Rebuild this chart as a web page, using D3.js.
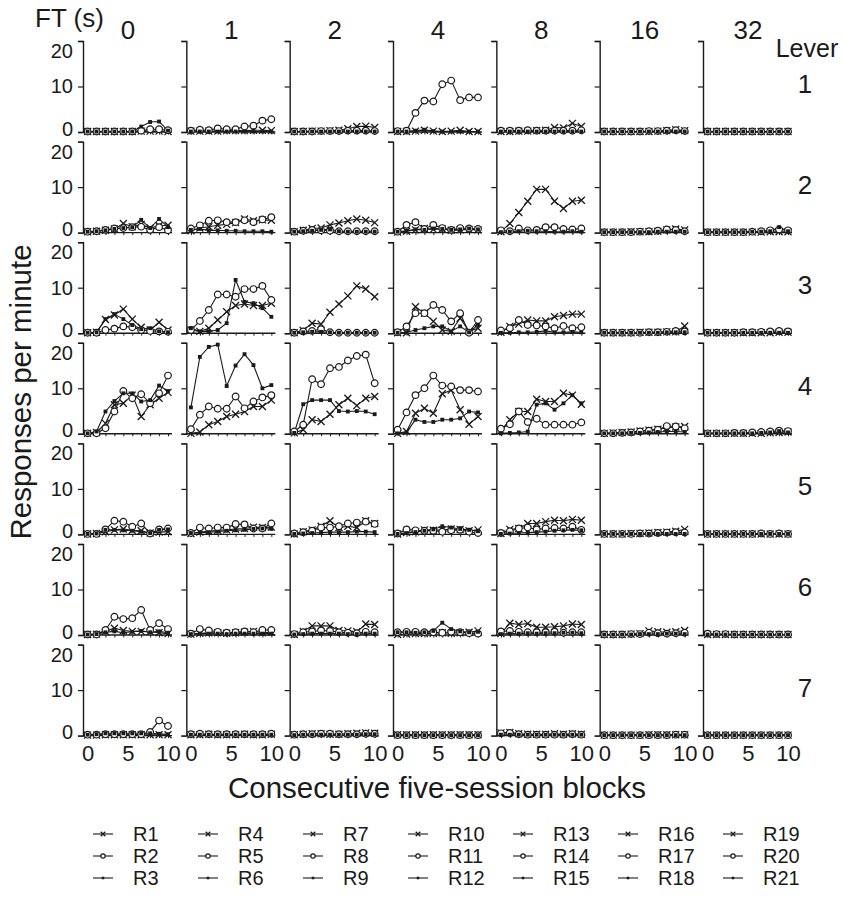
<!DOCTYPE html>
<html>
<head>
<meta charset="utf-8">
<script src="https://cdn.jsdelivr.net/npm/d3@7"></script>
<style>
  body { margin: 0; background: #fff; }
  svg { display: block; }
  text { font-family: "Liberation Sans", Arial, sans-serif; fill: #1a1a1a; }
</style>
</head>
<body>
<svg id="chart"></svg>
<script>
const width = 844;
const height = 902;

const ftValues = ['0', '1', '2', '4', '8', '16', '32'];
const levers = [1, 2, 3, 4, 5, 6, 7];
const blocks = [1, 2, 3, 4, 5, 6, 7, 8, 9, 10];
const yTicks = [0, 10, 20];
const xTickValues = [1, 5.5, 10];
const xTickLabels = ['0', '5', '10'];

// responses per minute: one row per lever (1..7), ten five-session blocks each
// FT 0 s
const R1 = [
  [0.1,0.1,0.1,0.1,0.1,0.1,0.2,0.2,0.2,0.1],
  [0.2,0.3,0.5,0.8,2.0,1.3,1.8,1.0,1.5,1.6],
  [0.1,0.2,3.0,4.0,5.3,3.1,1.3,0.7,2.4,0.7],
  [0.1,0.3,2.3,6.4,6.7,8.5,3.8,6.4,7.8,9.1],
  [0.1,0.2,0.6,1.0,1.2,0.9,0.8,0.3,0.5,0.6],
  [0.1,0.2,0.8,1.5,1.0,0.8,0.8,0.7,0.5,0.3],
  [0.1,0.1,0.2,0.2,0.2,0.2,0.2,0.2,0.2,0.2]
];
const R2 = [
  [0.1,0.1,0.1,0.1,0.1,0.1,0.3,0.6,0.6,0.4],
  [0.2,0.3,0.6,0.9,1.0,1.2,1.3,0.6,1.2,0.5],
  [0.1,0.1,0.7,1.0,1.5,1.3,0.7,0.5,0.4,0.3],
  [0.1,0.1,1.2,4.9,9.4,7.8,8.7,6.7,8.9,12.8],
  [0.1,0.1,1.1,3.0,2.8,1.7,2.4,0.2,1.1,1.3],
  [0.1,0.1,1.1,4.0,3.5,3.7,5.5,1.1,2.6,1.3],
  [0.2,0.2,0.3,0.3,0.3,0.3,0.3,0.8,3.3,2.1]
];
const R3 = [
  [0.1,0.1,0.1,0.1,0.1,0.1,1.2,2.2,2.3,0.3],
  [0.2,0.3,0.5,0.8,1.0,1.2,2.8,1.0,3.0,1.2],
  [0.1,0.2,3.1,4.2,3.1,1.8,0.9,1.1,0.4,0.2],
  [0.1,0.5,4.9,7.2,8.9,8.9,7.1,7.4,10.6,9.4],
  [0.1,0.2,1.0,1.0,0.9,0.8,0.6,0.3,1.0,1.1],
  [0.1,0.2,0.6,0.8,0.5,0.7,0.9,0.6,0.8,0.5],
  [0.2,0.3,0.5,0.5,0.5,0.5,0.5,0.5,0.4,0.3]
];
// FT 1 s
const R4 = [
  [0.2,0.2,0.2,0.2,0.3,0.3,0.3,0.4,0.4,0.3],
  [0.4,1.0,1.3,1.6,1.8,2.2,3.0,2.6,2.8,2.7],
  [0.7,0.4,1.1,2.9,4.7,6.1,6.4,6.1,6.1,6.6],
  [0.1,0.4,2.0,2.7,3.8,4.3,4.9,6.0,6.0,7.4],
  [0.2,0.5,0.7,0.9,1.0,1.2,1.3,1.6,1.5,1.6],
  [0.2,0.4,0.5,0.5,0.4,0.5,0.6,0.8,0.5,0.6],
  [0.2,0.2,0.3,0.2,0.2,0.2,0.3,0.2,0.2,0.3]
];
const R5 = [
  [0.3,0.5,0.4,0.8,0.6,0.6,1.2,1.4,2.5,2.8],
  [0.9,1.6,2.6,2.7,2.3,2.3,2.7,2.3,2.9,3.4],
  [0.7,2.7,5.1,8.5,8.5,8.0,9.7,9.7,10.4,7.3],
  [1.0,4.2,6.0,5.5,5.5,8.2,5.6,7.1,8.0,8.5],
  [0.3,1.5,1.3,1.5,1.5,2.3,2.2,1.3,1.3,2.4],
  [0.3,1.3,1.0,0.7,0.5,0.6,0.8,0.6,1.1,1.1],
  [0.3,0.4,0.3,0.3,0.3,0.3,0.3,0.3,0.3,0.4]
];
const R6 = [
  [0.1,0.1,0.1,0.1,0.1,0.1,0.1,0.1,0.1,0.1],
  [0.6,0.8,0.5,0.5,0.4,0.4,0.3,0.3,0.3,0.2],
  [1.1,0.4,0.4,0.7,2.2,11.7,6.9,6.6,5.5,3.6],
  [5.8,16.9,19.1,19.6,10.5,15.0,17.5,15.1,10.0,10.7],
  [0.3,0.4,0.5,0.6,0.8,0.9,1.0,1.2,1.3,1.2],
  [0.2,0.3,0.3,0.3,0.2,0.3,0.3,0.3,0.3,0.3],
  [0.2,0.2,0.2,0.2,0.2,0.2,0.2,0.2,0.2,0.2]
];
// FT 2 s
const R7 = [
  [0.1,0.1,0.2,0.2,0.3,0.4,0.7,1.2,1.3,1.0],
  [0.2,0.5,0.9,1.0,1.7,2.1,2.6,3.0,2.7,2.2],
  [0.1,0.6,2.2,2.0,4.6,6.4,8.2,10.4,9.7,8.0],
  [0.2,0.9,3.1,2.7,4.3,6.4,7.8,6.2,7.8,8.2],
  [0.1,0.6,1.0,1.8,3.0,1.5,1.8,1.5,3.0,2.4],
  [0.1,0.8,2.0,2.0,2.0,1.0,0.9,0.7,2.4,2.3],
  [0.2,0.3,0.4,0.4,0.3,0.3,0.4,0.5,0.6,0.5]
];
const R8 = [
  [0.1,0.1,0.1,0.2,0.2,0.2,0.3,0.3,0.3,0.2],
  [0.2,0.4,0.6,0.5,0.4,0.3,0.3,0.3,0.3,0.3],
  [0.1,0.4,0.5,0.9,0.2,0.1,0.1,0.1,0.1,0.1],
  [0.5,2.0,12.0,10.9,14.4,14.7,16.1,17.1,17.4,11.1],
  [0.2,0.5,0.8,1.5,1.5,1.8,2.4,2.6,2.8,2.3],
  [0.2,0.6,0.8,1.0,0.9,0.6,0.5,0.4,0.7,0.6],
  [0.2,0.3,0.3,0.4,0.4,0.3,0.3,0.3,0.4,0.4]
];
const R9 = [
  [0.1,0.1,0.1,0.1,0.1,0.1,0.1,0.1,0.1,0.1],
  [0.2,0.3,0.4,0.6,0.7,0.3,0.2,0.2,0.2,0.2],
  [0.1,0.2,0.3,0.3,0.2,0.1,0.1,0.1,0.1,0.1],
  [0.2,6.5,7.4,7.4,7.4,5.0,4.9,5.0,4.9,4.3],
  [0.1,0.2,0.3,0.4,0.5,0.5,0.5,0.6,0.6,0.5],
  [0.1,0.2,0.3,0.3,0.3,0.3,0.2,0.2,0.3,0.3],
  [0.1,0.2,0.2,0.2,0.2,0.2,0.2,0.2,0.3,0.3]
];
// FT 4 s
const R10 = [
  [0.1,0.1,0.2,0.4,0.2,0.1,0.2,0.4,0.1,0.1],
  [0.1,0.3,0.6,0.9,0.7,0.8,0.5,0.6,0.7,0.6],
  [0.1,0.1,5.8,4.4,2.6,0.7,0.4,3.3,0.4,1.1],
  [0.1,0.5,4.5,5.6,4.5,8.8,9.6,5.3,2.1,3.8],
  [0.1,0.4,0.6,1.0,0.9,1.0,1.2,1.1,0.8,1.0],
  [0.1,0.2,0.3,0.3,0.4,0.5,0.4,0.5,0.6,0.9],
  [0.2,0.2,0.2,0.2,0.2,0.2,0.2,0.2,0.2,0.2]
];
const R11 = [
  [0.2,0.3,4.2,6.9,6.7,10.5,11.3,7.0,7.6,7.6],
  [0.2,1.7,2.3,0.8,1.7,1.0,0.6,1.0,0.9,0.8],
  [0.2,1.5,4.4,4.4,6.2,5.1,2.6,4.4,0.1,2.9],
  [0.9,4.7,8.5,10.0,12.8,10.6,10.4,9.6,9.6,9.3],
  [0.2,1.1,0.9,0.8,0.8,0.6,0.9,1.0,0.6,0.3],
  [0.6,0.7,0.7,0.6,0.6,0.5,0.7,0.6,0.4,0.3],
  [0.1,0.1,0.1,0.1,0.1,0.1,0.1,0.1,0.1,0.1]
];
const R12 = [
  [0.1,0.1,0.3,0.5,0.2,0.1,0.1,0.1,0.1,0.1],
  [0.2,0.4,0.7,0.6,0.9,0.8,0.6,0.7,0.9,0.7],
  [0.1,0.2,0.7,1.1,1.5,1.5,0.4,1.5,0.2,1.8],
  [0.1,0.3,3.1,2.6,2.6,3.1,3.1,3.4,4.9,4.7],
  [0.1,0.3,0.5,0.8,1.1,1.8,1.5,1.2,1.0,0.7],
  [0.6,0.6,0.5,0.6,0.9,2.7,1.3,0.8,0.6,0.7],
  [0.1,0.1,0.1,0.1,0.1,0.1,0.1,0.1,0.1,0.1]
];
// FT 8 s
const R13 = [
  [0.1,0.1,0.2,0.2,0.3,0.4,1.0,0.9,1.9,1.2],
  [0.2,2.0,4.4,6.9,9.5,9.5,6.9,5.3,6.9,7.1],
  [0.2,1.5,2.0,2.9,2.7,2.7,3.6,3.9,4.2,4.2],
  [0.7,3.1,4.9,4.9,7.6,7.1,7.1,8.9,8.5,6.5],
  [0.2,1.1,1.3,2.4,2.4,2.8,3.1,3.0,3.3,3.1],
  [0.3,2.6,2.3,2.5,1.7,1.7,1.8,2.0,2.4,2.3],
  [0.6,0.7,0.4,0.3,0.3,0.3,0.4,0.3,0.4,0.3]
];
const R14 = [
  [0.3,0.3,0.3,0.4,0.3,0.3,0.3,0.3,0.3,0.4],
  [0.5,0.3,0.9,0.5,0.6,1.2,1.2,0.8,0.7,0.9],
  [0.6,1.1,2.9,1.8,1.7,1.5,1.1,1.6,1.1,1.3],
  [1.1,2.1,4.9,2.6,3.3,2.0,2.0,2.0,2.0,2.5],
  [0.3,0.7,1.3,1.5,1.1,1.3,1.4,1.3,1.7,1.0],
  [0.8,0.9,0.7,0.6,0.6,0.6,0.7,0.5,0.6,0.6],
  [0.5,0.6,0.3,0.2,0.2,0.2,0.2,0.2,0.3,0.2]
];
const R15 = [
  [0.1,0.1,0.1,0.1,0.1,0.1,0.1,0.1,0.1,0.1],
  [0.1,0.2,0.3,0.4,0.3,0.3,0.2,0.2,0.3,0.2],
  [0.1,0.1,0.2,0.2,0.3,0.5,0.2,0.2,0.3,0.2],
  [0.1,0.2,0.3,0.5,6.4,6.7,5.3,6.7,8.5,6.7],
  [0.1,0.2,0.3,0.4,0.5,0.6,0.8,0.9,1.0,0.9],
  [0.2,0.3,0.3,0.4,0.3,0.4,0.4,0.5,0.5,0.4],
  [0.2,0.2,0.2,0.2,0.2,0.2,0.2,0.2,0.2,0.2]
];
// FT 16 s
const R16 = [
  [0.1,0.1,0.1,0.1,0.1,0.1,0.2,0.3,0.5,0.3],
  [0.1,0.1,0.1,0.2,0.2,0.2,0.3,0.6,0.8,0.6],
  [0.1,0.1,0.1,0.1,0.2,0.2,0.2,0.3,0.3,1.6],
  [0.1,0.2,0.3,0.4,0.6,0.8,1.0,1.3,1.5,1.6],
  [0.1,0.1,0.1,0.2,0.2,0.3,0.4,0.5,0.7,1.1],
  [0.1,0.1,0.1,0.2,0.3,0.9,0.7,0.6,0.7,1.0],
  [0.1,0.1,0.1,0.1,0.1,0.2,0.2,0.2,0.2,0.2]
];
const R17 = [
  [0.1,0.1,0.1,0.1,0.1,0.2,0.2,0.3,0.4,0.2],
  [0.1,0.1,0.1,0.1,0.2,0.3,0.4,0.7,0.6,0.3],
  [0.1,0.1,0.1,0.1,0.1,0.2,0.2,0.3,0.5,0.4],
  [0.1,0.1,0.2,0.3,0.5,0.7,0.9,1.7,1.6,1.2],
  [0.1,0.1,0.1,0.1,0.2,0.2,0.3,0.4,0.5,0.4],
  [0.1,0.1,0.1,0.2,0.2,0.5,0.4,0.3,0.4,0.5],
  [0.1,0.1,0.1,0.1,0.1,0.1,0.1,0.1,0.2,0.2]
];
const R18 = [
  [0.1,0.1,0.1,0.1,0.1,0.1,0.1,0.1,0.1,0.1],
  [0.1,0.1,0.1,0.1,0.1,0.1,0.2,0.2,0.2,0.2],
  [0.1,0.1,0.1,0.1,0.1,0.1,0.1,0.2,0.2,0.2],
  [0.1,0.1,0.1,0.2,0.2,0.3,0.4,0.5,0.5,0.4],
  [0.1,0.1,0.1,0.1,0.1,0.1,0.1,0.1,0.1,0.1],
  [0.1,0.1,0.1,0.1,0.2,0.2,0.2,0.3,0.3,0.2],
  [0.1,0.1,0.1,0.1,0.1,0.1,0.1,0.1,0.1,0.1]
];
// FT 32 s
const R19 = [
  [0.1,0.1,0.1,0.1,0.1,0.1,0.1,0.1,0.1,0.1],
  [0.1,0.1,0.1,0.1,0.1,0.1,0.1,0.2,0.2,0.2],
  [0.1,0.1,0.1,0.1,0.1,0.1,0.1,0.1,0.2,0.2],
  [0.1,0.1,0.1,0.1,0.1,0.1,0.1,0.2,0.3,0.4],
  [0.1,0.1,0.1,0.1,0.1,0.1,0.1,0.1,0.1,0.1],
  [0.1,0.1,0.1,0.1,0.1,0.1,0.1,0.1,0.1,0.1],
  [0.1,0.1,0.1,0.1,0.1,0.1,0.1,0.1,0.1,0.1]
];
const R20 = [
  [0.1,0.1,0.1,0.1,0.1,0.1,0.1,0.1,0.1,0.1],
  [0.1,0.1,0.1,0.1,0.1,0.2,0.3,0.5,0.7,0.5],
  [0.1,0.1,0.1,0.1,0.2,0.2,0.3,0.4,0.5,0.4],
  [0.1,0.1,0.1,0.2,0.2,0.3,0.4,0.5,0.7,0.6],
  [0.1,0.1,0.1,0.1,0.1,0.1,0.2,0.1,0.2,0.1],
  [0.3,0.2,0.2,0.1,0.1,0.1,0.1,0.1,0.1,0.1],
  [0.1,0.1,0.1,0.1,0.1,0.1,0.1,0.1,0.1,0.1]
];
const R21 = [
  [0.1,0.1,0.1,0.1,0.1,0.1,0.1,0.1,0.1,0.1],
  [0.1,0.1,0.1,0.1,0.1,0.2,0.2,0.3,1.2,0.3],
  [0.1,0.1,0.1,0.1,0.1,0.1,0.1,0.1,0.1,0.1],
  [0.1,0.1,0.1,0.1,0.1,0.1,0.2,0.3,0.6,0.3],
  [0.1,0.1,0.1,0.1,0.1,0.1,0.1,0.1,0.1,0.1],
  [0.1,0.1,0.1,0.1,0.1,0.1,0.1,0.1,0.1,0.1],
  [0.1,0.1,0.1,0.1,0.1,0.1,0.1,0.1,0.1,0.1]
];

const rats = [R1,R2,R3,R4,R5,R6,R7,R8,R9,R10,R11,R12,R13,R14,R15,R16,R17,R18,R19,R20,R21];
const ratNames = rats.map((d, i) => 'R' + (i + 1));
const markerTypes = ['cross', 'circle', 'square'];

const ink = '#1a1a1a';
const panelW = 89;
const panelH = 91;

const svg = d3.select('#chart')
  .attr('width', width)
  .attr('height', height);

const colPos = d3.scaleLinear().domain([0, ftValues.length - 1]).range([83, 703]);
const rowPos = d3.scaleLinear().domain([0, levers.length - 1]).range([41, 644.6]);

const x = d3.scaleLinear().domain([1, 10]).range([4.6, 85]);
const y = d3.scaleLinear().domain([0, 20]).range([panelH, 0]);

const line = d3.line()
  .x((d, i) => x(blocks[i]))
  .y(d => y(d));

function drawMarker(g, type, size) {
  if (type === 'circle') {
    g.append('circle').attr('r', size * 0.95)
      .attr('fill', '#fff').attr('stroke', ink).attr('stroke-width', 1.2);
  } else if (type === 'square') {
    g.append('rect').attr('x', -size * 0.55).attr('y', -size * 0.55)
      .attr('width', size * 1.1).attr('height', size * 1.1).attr('fill', ink);
  } else {
    g.append('path')
      .attr('d', `M${-size},${-size}L${size},${size}M${-size},${size}L${size},${-size}`)
      .attr('stroke', ink).attr('stroke-width', 1.3).attr('fill', 'none');
  }
}

ftValues.forEach((ft, c) => {
  levers.forEach((lever, r) => {
    const panel = svg.append('g')
      .attr('transform', `translate(${colPos(c)}, ${rowPos(r)})`);

    // baseline with small block ticks
    const xAxis = panel.append('g')
      .attr('transform', `translate(0, ${panelH})`)
      .call(d3.axisBottom(x).tickValues(blocks).tickSize(2.5).tickSizeOuter(0).tickFormat(''));
    xAxis.select('.domain').remove();
    xAxis.selectAll('line').attr('stroke', ink);
    panel.append('line')
      .attr('x1', 0).attr('x2', panelW)
      .attr('y1', panelH).attr('y2', panelH)
      .attr('stroke', ink).attr('stroke-width', 1.4);

    if (r === levers.length - 1) {
      const xLab = panel.append('g')
        .attr('transform', `translate(0, ${panelH})`)
        .call(d3.axisBottom(x).tickValues(xTickValues).tickSize(0).tickPadding(10)
          .tickFormat((d, i) => xTickLabels[i]));
      xLab.select('.domain').remove();
      xLab.selectAll('text').attr('font-size', 22).attr('font-family', null).attr('fill', ink);
    }

    const yAxis = panel.append('g')
      .call(d3.axisLeft(y).tickValues(yTicks).tickSize(5).tickPadding(5)
        .tickFormat(c === 0 ? d3.format('d') : ''));
    yAxis.select('.domain').attr('stroke', ink).attr('stroke-width', 1.4);
    yAxis.selectAll('line').attr('stroke', ink).attr('stroke-width', 1.2);
    yAxis.selectAll('text')
      .attr('font-size', 20).attr('font-family', null).attr('fill', ink)
      .attr('dy', d => d === 20 ? '0.82em' : d === 0 ? '0.15em' : '0.32em');

    [0, 1, 2].forEach(k => {
      const values = rats[c * 3 + k][r];
      panel.append('path')
        .datum(values)
        .attr('d', line)
        .attr('fill', 'none')
        .attr('stroke', ink)
        .attr('stroke-width', 1.1);
    });
    [0, 1, 2].forEach(k => {
      const values = rats[c * 3 + k][r];
      panel.selectAll(null)
        .data(values)
        .enter().append('g')
        .attr('transform', (d, i) => `translate(${x(blocks[i])}, ${y(d)})`)
        .each(function() { drawMarker(d3.select(this), markerTypes[k], 3.5); });
    });
  });

  svg.append('text')
    .attr('x', colPos(c) + 45)
    .attr('y', 39)
    .attr('text-anchor', 'middle')
    .attr('font-size', 26)
    .text(ft);
});

levers.forEach((lever, r) => {
  svg.append('text')
    .attr('x', 805)
    .attr('y', rowPos(r) + 52)
    .attr('text-anchor', 'middle')
    .attr('font-size', 26)
    .text(lever);
});

svg.append('text')
  .attr('x', 35).attr('y', 27)
  .attr('font-size', 26)
  .text('FT (s)');

svg.append('text')
  .attr('x', 807).attr('y', 57)
  .attr('text-anchor', 'middle')
  .attr('font-size', 25)
  .text('Lever');

svg.append('text')
  .attr('transform', 'translate(31, 392) rotate(-90)')
  .attr('text-anchor', 'middle')
  .attr('font-size', 29.5)
  .text('Responses per minute');

svg.append('text')
  .attr('x', 437).attr('y', 798)
  .attr('text-anchor', 'middle')
  .attr('font-size', 29.5)
  .text('Consecutive five-session blocks');

// legend: columns are FT groups, rows are marker types
const legendX = d3.scaleLinear().domain([0, 6]).range([93, 723]);
const legendY = d3.scaleLinear().domain([0, 2]).range([834, 878]);

ratNames.forEach((name, i) => {
  const col = Math.floor(i / 3);
  const k = i % 3;
  const g = svg.append('g')
    .attr('transform', `translate(${legendX(col)}, ${legendY(k)})`);
  g.append('line')
    .attr('x1', 0).attr('x2', 20)
    .attr('stroke', ink).attr('stroke-width', 1.1);
  const m = g.append('g').attr('transform', 'translate(10, 0)');
  drawMarker(m, markerTypes[k], 2.3);
  g.append('text')
    .attr('x', 40).attr('y', 7)
    .attr('font-size', 20)
    .text(name);
});
</script>
</body>
</html>
